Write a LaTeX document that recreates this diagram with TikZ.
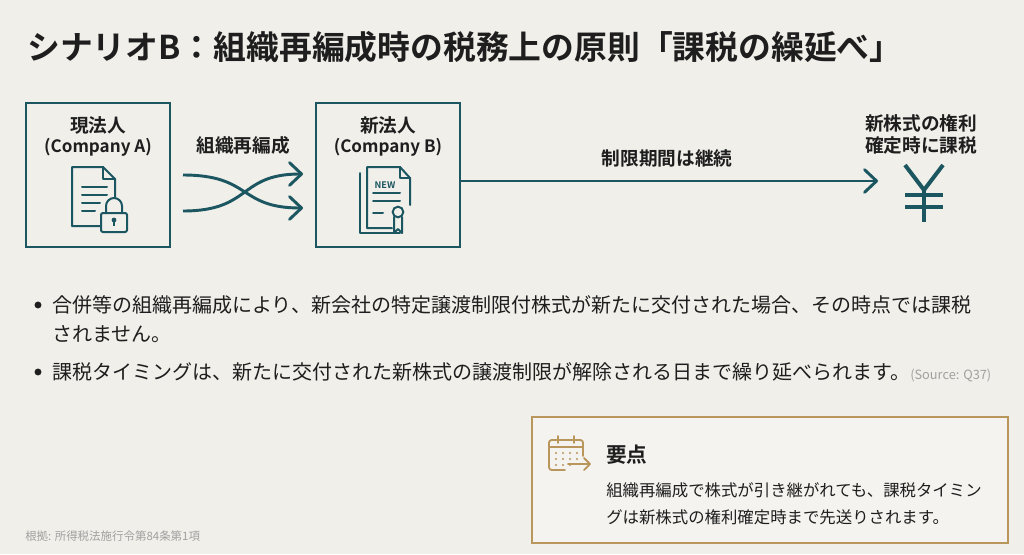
\documentclass[tikz,border=0pt]{standalone}
\usepackage{fontspec}
\setmainfont{Noto Sans CJK JP}[BoldFont={Noto Sans CJK JP Bold}]
\usepackage{tikz}
\usetikzlibrary{arrows.meta}
\usetikzlibrary{positioning}
\definecolor{PageBg}{RGB}{240,239,234}
\definecolor{DeepTeal}{RGB}{27,86,97}
\definecolor{InkDark}{RGB}{30,30,30}
\definecolor{SoftGold}{RGB}{184,150,92}
\definecolor{MidGray}{RGB}{160,160,160}

\begin{document}
\begin{tikzpicture}[
 x=0.75pt, y=-0.75pt,
 compbox/.style = {draw=DeepTeal, line width=2.2pt, rectangle, minimum width=108pt, minimum height=108pt},
 lbl/.style = {font=\fontsize{14}{16.5}\selectfont\bfseries, text=InkDark, align=center, inner sep=0pt},
 latin/.style = {font=\fontsize{12.8}{16.5}\selectfont\bfseries, text=InkDark, inner sep=0pt},
 bullet/.style = {font=\fontsize{15}{18}\selectfont, text=InkDark, anchor=west, inner sep=0pt},
 flow/.style = {DeepTeal, line width=2.2pt, -{Straight Barb[length=9pt,width=17pt,line cap=round,line join=round]}},
 icon/.style = {DeepTeal, line width=1.5pt, line cap=round, line join=round},
 goldicon/.style = {SoftGold, line width=1.4pt, line cap=round, line join=round},
 ]
    \fill [PageBg] (0,0) rectangle (1024,554);
    \useasboundingbox (0,0) rectangle (1024,554);

    \node [anchor=west, inner sep=0pt, text=InkDark, font=\fontsize{24.6}{28}\selectfont\bfseries] (title) at (27,47)
          {シナリオB：組織再編成時の税務上の原則「課税の繰延べ」};

    % companies
    \node [compbox] (boxA) at (98,175) {};
    \node [lbl] (nameA) at (98,125) {現法人};
    \node [latin] (compA) at (98,147) {(Company A)};
    \node [compbox] (boxB) at (388,175) {};
    \node [lbl] (nameB) at (388,125) {新法人};
    \node [latin] (compB) at (388,147) {(Company B)};

    % document with lock
    \draw [icon] (100,226) -- (72,226) -- (72,167) -- (103,167) -- (115,179) -- (115,197);
    \draw [icon] (103,167) -- (103,179) -- (115,179);
    \foreach \yy/\xe in {187/107, 195/107, 203/100, 211/95}
        \draw [icon] (82,\yy) -- (\xe,\yy);
    \draw [icon, rounded corners=1.5pt] (101,213) rectangle (127,232);
    \draw [icon] (106,213) -- (106,206) arc [start angle=180, end angle=0, radius=6pt] -- (122,213);
    \fill [DeepTeal] (114,220) circle [radius=1.8pt];
    \draw [DeepTeal, line width=1.3pt] (114,220) -- (114,226);

    % new certificate
    \draw [icon] (360,173) -- (360,233) -- (400,233);
    \draw [icon] (392,228) -- (367,228) -- (367,167) -- (400,167) -- (410,178) -- (410,205);
    \draw [icon] (400,167) -- (400,178) -- (410,178);
    \node [inner sep=0pt, text=DeepTeal, font=\fontsize{6.8}{7}\selectfont\bfseries] (newtag) at (385,185) {NEW};
    \draw [icon] (373,193) -- (400,193);
    \draw [icon] (373,201) -- (400,201);
    \draw [icon] (373,213) -- (383,213);
    \draw [icon] (398,212) circle [radius=4pt];
    \draw [icon] (394,217) -- (394,233) -- (398,229) -- (402,233) -- (402,217);

    % reorganisation
    \node [lbl] (reorg) at (243,145) {組織再編成};
    \coordinate (crossA) at (183,175);
    \coordinate (crossB) at (183,211);
    \coordinate (crossC) at (303,208);
    \coordinate (crossD) at (303,174);
    \draw [flow] (crossA) .. controls (252,175) and (238,208) .. (crossC);
    \draw [flow] (crossB) .. controls (252,211) and (238,174) .. (crossD);

    % restriction period
    \coordinate (taxpt) at (878,181);
    \draw [flow] (taxpt -| boxB.east) -- (taxpt);
    \node [lbl] (period) at (667,158) {制限期間は継続};
    \node [lbl, align=center] (taxlbl) at (921,134) {新株式の権利\\確定時に課税};

    % yen
    \coordinate (yen) at (924,190);
    \draw [DeepTeal, line width=3pt, line join=miter] (905,165) -- (yen) -- (943,165);
    \draw [DeepTeal, line width=3pt] (yen) -- (924,222);
    \draw [DeepTeal, line width=3pt] (905,195) -- (943,195);
    \draw [DeepTeal, line width=3pt] (905,207) -- (943,207);

    % bullets
    \fill [InkDark] (38,305) circle [radius=2.6pt];
    \node [bullet] (pointA) at (52,305) {合併等の組織再編成により、新会社の特定譲渡制限付株式が新たに交付された場合、その時点では課税};
    \node [bullet] (pointAb) at (52,334) {されません。};
    \fill [InkDark] (38,372) circle [radius=2.6pt];
    \node [bullet] (pointB) at (52,372) {課税タイミングは、新たに交付された新株式の譲渡制限が解除される日まで繰り延べられます。{\fontsize{9.6}{10}\selectfont\color{MidGray}(Source: Q37)}};

    % key point box
    \draw [SoftGold, line width=1.5pt, fill=PageBg!75!white] (532,417) rectangle (1008,543);
    \draw [goldicon, rounded corners=2pt] (565,470) -- (549,470) -- (549,440) -- (583,440) -- (583,456);
    \draw [goldicon] (549,447) -- (583,447);
    \draw [goldicon] (558,436) -- (558,443);
    \draw [goldicon] (574,436) -- (574,443);
    \foreach \xx in {556,563,570,577}
        \foreach \yy in {453,459}
            \fill [SoftGold] (\xx,\yy) circle [radius=0.9pt];
    \foreach \xx in {556,563,570}
        \fill [SoftGold] (\xx,465) circle [radius=0.9pt];
    \coordinate (calA) at (568,464);
    \coordinate (calB) at (591,464);
    \draw [goldicon, -{Straight Barb[length=4.5pt,width=9pt,line cap=round,line join=round]}] (calA) -- (calB);

    \node [anchor=west, inner sep=0pt, text=InkDark, font=\fontsize{15.5}{18}\selectfont\bfseries] (keyttl) at (606,455) {要点};
    \node [anchor=west, inner sep=0pt, text=InkDark, font=\fontsize{12.3}{15}\selectfont] (keyA) at (606,490) {組織再編成で株式が引き継がれても、課税タイミン};
    \node [anchor=west, inner sep=0pt, text=InkDark, font=\fontsize{12.3}{15}\selectfont] (keyB) at (606,517) {グは新株式の権利確定時まで先送りされます。};

    \node [anchor=west, inner sep=0pt, text=MidGray, font=\fontsize{8.6}{10}\selectfont] (basis) at (25,536) {根拠: 所得税法施行令第84条第1項};
\end{tikzpicture}
\end{document}
